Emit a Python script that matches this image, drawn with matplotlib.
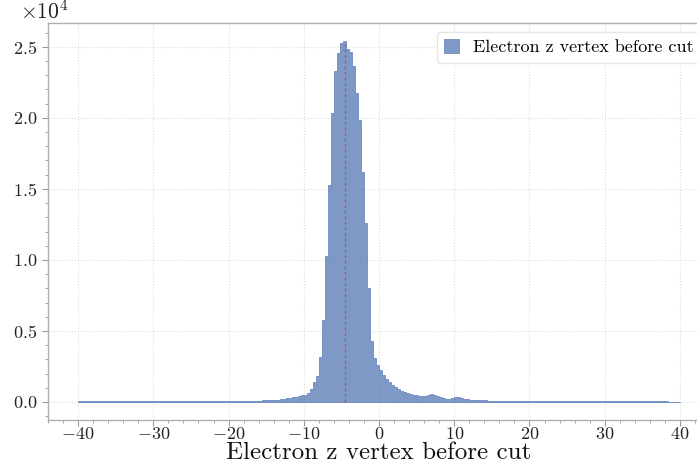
import numpy as np
import matplotlib
matplotlib.use("Agg")
import matplotlib.pyplot as plt
from matplotlib.ticker import MultipleLocator

plt.rcParams["font.family"] = ["cmr10", "DejaVu Serif"]
plt.rcParams["mathtext.fontset"] = "cm"
plt.rcParams["axes.formatter.use_mathtext"] = True
plt.rcParams["axes.unicode_minus"] = True

# Histogram binning of the electron z vertex (cm)
z_min, z_max, n_bins = -40.0, 40.0, 200

# Entries per bin (200 bins of 0.4 cm)
counts = [
    # -40 .. -20
    38, 40, 42, 39, 41, 44, 40, 42, 45, 43, 46, 48, 62, 50, 47, 45, 46, 48, 49, 47,
    50, 48, 51, 49, 52, 58, 54, 52, 51, 53, 55, 52, 54, 56, 55, 57, 58, 56, 59, 60,
    58, 61, 60, 62, 61, 63, 64, 62, 65, 66,
    # -20 .. -12
    68, 70, 72, 74, 76, 79, 82, 86, 90, 95,
    100, 105, 115, 125, 140, 155, 170, 190, 215, 245,
    # -12 .. -8
    280, 320, 370, 430, 470, 520, 620, 910, 1400, 1850,
    # -8 .. -4
    3160, 5800, 10300, 15300, 20340, 23270, 24560, 25260, 25410, 24840,
    # -4 .. 0
    24670, 23620, 21750, 19870, 16200, 12600, 8000, 4300, 3100, 2600,
    # 0 .. 4
    2250, 1900, 1600, 1400, 1200, 1050, 920, 800, 700, 630,
    # 4 .. 8
    570, 510, 460, 420, 400, 420, 480, 540, 500, 440,
    # 8 .. 12
    330, 280, 240, 230, 260, 340, 360, 290, 230, 190,
    # 12 .. 16
    170, 150, 140, 130, 120, 115, 100, 85, 75, 70,
    # 16 .. 40
    68, 66, 64, 62, 60, 58, 57, 56, 55, 54,
    53, 52, 52, 51, 66, 58, 50, 49, 48, 48,
    47, 47, 46, 46, 45, 45, 44, 44, 43, 43,
    42, 42, 41, 41, 40, 40, 40, 39, 39, 38,
    38, 38, 37, 37, 36, 36, 36, 35, 35, 35,
    34, 34, 34, 33, 33, 33, 32, 32, 32, 31,
]

label = "Electron z vertex before cut"
mean_z = -4.5

edges = np.linspace(z_min, z_max, n_bins + 1)
centers = 0.5 * (edges[:-1] + edges[1:])

fig = plt.figure(figsize=(6.97, 4.68), dpi=100)
ax = fig.add_axes([48 / 697, 48 / 468, 662 / 697, 397 / 468])

ax.hist(centers, bins=edges, weights=counts, histtype="stepfilled",
        color="#4c72b0", alpha=0.72, edgecolor="#4c72b0", linewidth=0.6,
        label=label, zorder=2)
ax.vlines(mean_z, 0, max(counts), colors="#d62728", linestyles=(0, (2, 2)),
          linewidth=1.0, alpha=0.6, zorder=3)

ax.set_xlim(-44, 44)
ax.set_ylim(-0.05 * max(counts), 1.05 * max(counts))
ax.xaxis.set_major_locator(MultipleLocator(10))
ax.xaxis.set_minor_locator(MultipleLocator(2))
ax.yaxis.set_major_locator(MultipleLocator(5000))
ax.yaxis.set_minor_locator(MultipleLocator(1000))
ax.ticklabel_format(axis="y", style="sci", scilimits=(0, 0))
off = ax.yaxis.get_offset_text()
off.set_fontsize(15.5)
off.set_color("#222222")
off.set_x(-0.042)

ax.grid(True, which="major", color="#dcdcdc", linestyle=":", linewidth=0.8, zorder=0)
ax.set_axisbelow(True)
for sp in ax.spines.values():
    sp.set_color("#b0b0b0")
    sp.set_linewidth(1.0)
ax.tick_params(which="both", direction="out", color="#999999", labelcolor="#222222",
               labelsize=13)
ax.tick_params(which="major", length=4)
ax.tick_params(which="minor", length=2)
ax.tick_params(axis="x", which="major", pad=0)

ax.set_xlabel(label, fontsize=18, color="#111111", labelpad=0)
leg = ax.legend(loc="upper right", fontsize=13, handlelength=0.8, handleheight=0.8,
                frameon=True, framealpha=1.0, edgecolor="#e6e6e6", fancybox=True)

fig.savefig("out.png", dpi=100)
